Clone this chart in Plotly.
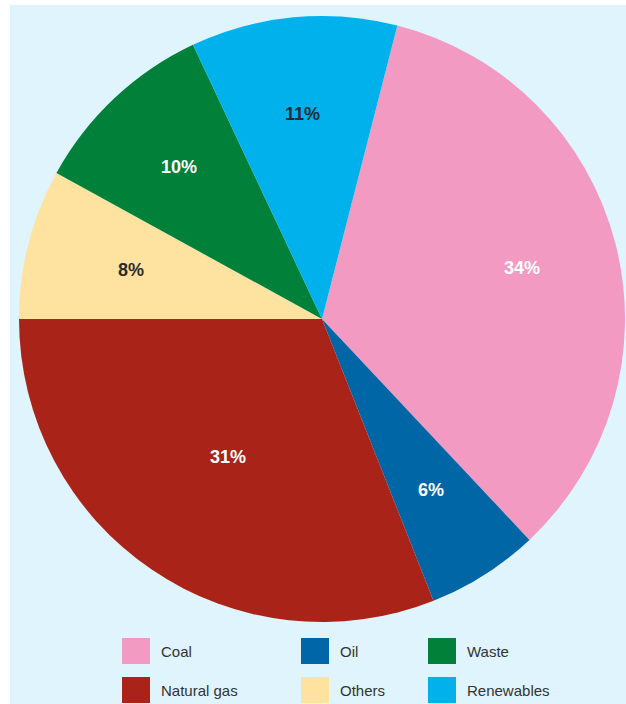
import math
import plotly.graph_objects as go

# Energy mix shares (percent), clockwise from the top
sources = ["Coal", "Oil", "Natural gas", "Others", "Waste", "Renewables"]
shares = [34, 6, 31, 8, 10, 11]
colors = ["#f39ac3", "#0066a6", "#aa2318", "#fde2a0", "#008039", "#00b1ec"]
label_colors = ["#ffffff", "#ffffff", "#ffffff", "#2b2b2b", "#ffffff", "#1d2b3a"]
# radial placement of each percentage label (fraction of the radius)
label_radius = [0.68, 0.67, 0.55, 0.65, 0.69, 0.68]

# Legend grid layout (row-major, three columns)
legend_order = ["Coal", "Oil", "Waste", "Natural gas", "Others", "Renewables"]

W, H = 626, 704
BG = "#dff4fc"
ROTATION = 14.4
CX, CY, R = 322, 319, 303  # pie centre and radius in pixels

fig = go.Figure()
fig.add_trace(go.Pie(
    labels=sources,
    values=shares,
    sort=False,
    direction="clockwise",
    rotation=ROTATION,
    marker=dict(colors=colors, line=dict(width=0)),
    textinfo="none",
    hoverinfo="label+percent",
    showlegend=False,
    domain=dict(x=[(CX - R) / W, (CX + R) / W], y=[1 - (CY + R) / H, 1 - (CY - R) / H]),
))

shapes = [dict(type="rect", xref="paper", yref="paper",
               x0=10 / W, x1=1, y0=0, y1=1 - 5 / H,
               fillcolor=BG, line=dict(width=0), layer="below")]
annotations = []

# percentage labels at the middle angle of each slice
total = sum(shares)
cum = 0
for v, fc, rf in zip(shares, label_colors, label_radius):
    mid = math.radians(ROTATION + 360 * (cum + v / 2) / total)
    cum += v
    px = CX + rf * R * math.sin(mid)
    py = CY - rf * R * math.cos(mid)
    annotations.append(dict(x=px / W, y=1 - py / H, xref="paper", yref="paper",
                            text=f"{v}%", showarrow=False,
                            xanchor="center", yanchor="middle",
                            font=dict(family="Liberation Sans, Arial, sans-serif",
                                      size=18, color=fc, weight="bold")))

col_x = [122, 301, 428]
row_y = [651, 690]
for i, name in enumerate(legend_order):
    r, c = divmod(i, 3)
    x0 = col_x[c]
    yc = row_y[r]
    col = colors[sources.index(name)]
    shapes.append(dict(type="rect", xref="paper", yref="paper",
                       x0=x0 / W, x1=(x0 + 28) / W,
                       y0=1 - (yc + 13) / H, y1=1 - (yc - 13) / H,
                       fillcolor=col, line=dict(width=0)))
    annotations.append(dict(x=(x0 + 37) / W, y=1 - yc / H, xref="paper", yref="paper",
                            text=name, showarrow=False, xanchor="left", yanchor="middle",
                            font=dict(family="Liberation Sans, Arial, sans-serif",
                                      size=15, color="#333333")))

fig.update_layout(
    width=W, height=H,
    margin=dict(l=0, r=0, t=0, b=0),
    paper_bgcolor="white",
    shapes=shapes,
    annotations=annotations,
)

fig.write_html("out.html")
